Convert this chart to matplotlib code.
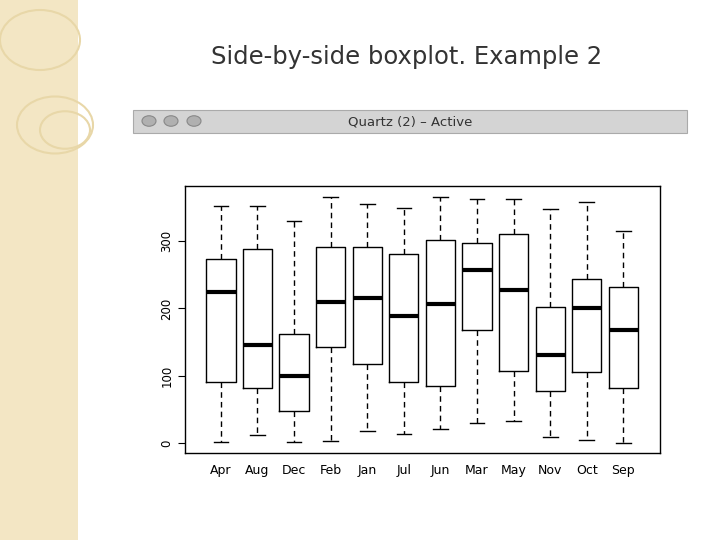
import matplotlib
matplotlib.use("Agg")
import matplotlib.pyplot as plt
from matplotlib.patches import Rectangle, Circle

months = ["Apr","Aug","Dec","Feb","Jan","Jul","Jun","Mar","May","Nov","Oct","Sep"]
whislo = [1, 12, 2, 3, 18, 13, 20, 30, 32, 9, 4, 0]
q1     = [90, 82, 48, 143, 118, 90, 84, 168, 107, 77, 105, 82]
med    = [225, 145, 100, 210, 215, 188, 207, 257, 227, 131, 201, 168]
q3     = [273, 289, 162, 292, 292, 281, 301, 297, 311, 202, 243, 232]
whishi = [352, 352, 330, 365, 355, 350, 366, 362, 363, 348, 358, 315]
yticks = [0, 100, 200, 300]

W, H = 720, 540
fig = plt.figure(figsize=(7.2, 5.4), dpi=100)
fig.patch.set_facecolor("white")

def fx(x): return x / W
def fy(y): return 1 - y / H

# decorative left strip
fig.patches.append(Rectangle((0, 0), fx(78), 1, transform=fig.transFigure,
                             facecolor="#f3e6c4", edgecolor="none"))
for cx, cy, r in [(40, 40, 40), (55, 125, 38), (65, 130, 25)]:
    fig.patches.append(Circle((fx(cx), fy(cy)), r / W, transform=fig.transFigure,
                              facecolor="none", edgecolor="#e8d7a8", lw=1.5))
fig.text(fx(407), fy(57), "Side-by-side boxplot. Example 2", ha="center", va="center",
         fontsize=17.5, color="#333333")

# window title bar
fig.patches.append(Rectangle((fx(133), fy(133)), fx(687 - 133), (133 - 110) / H,
                             transform=fig.transFigure, facecolor="#d4d4d4",
                             edgecolor="#aaaaaa", lw=0.8))
for cx in [149, 171, 194]:
    fig.patches.append(Circle((fx(cx), fy(121)), 7 / W, transform=fig.transFigure,
                              facecolor="#b0b0b0", edgecolor="#888888", lw=0.8))
fig.text(fx(410), fy(122), "Quartz (2) – Active", ha="center", va="center",
         fontsize=9.5, color="#333333")

ax = fig.add_axes([fx(185), fy(453), fx(660 - 185), (453 - 186) / H])
stats = [dict(label=m, whislo=a, q1=b, med=c, q3=d, whishi=e)
         for m, a, b, c, d, e in zip(months, whislo, q1, med, q3, whishi)]
ax.bxp(stats, showfliers=False, widths=0.8,
       boxprops=dict(color="black", lw=1),
       medianprops=dict(color="black", lw=3),
       whiskerprops=dict(color="black", lw=1, linestyle=(0, (4, 3))),
       capprops=dict(color="black", lw=1))
ax.set_xlim(0.02, 13.0)
ax.set_ylim(-15, 382)
ax.set_yticks(yticks)
ax.set_yticklabels([str(t) for t in yticks], rotation=90, va="center", fontsize=8.5)
ax.tick_params(axis="x", labelsize=9, length=0, pad=8)
ax.tick_params(axis="y", length=5)
for s in ax.spines.values():
    s.set_linewidth(1)
fig.savefig("out.png", dpi=100)
